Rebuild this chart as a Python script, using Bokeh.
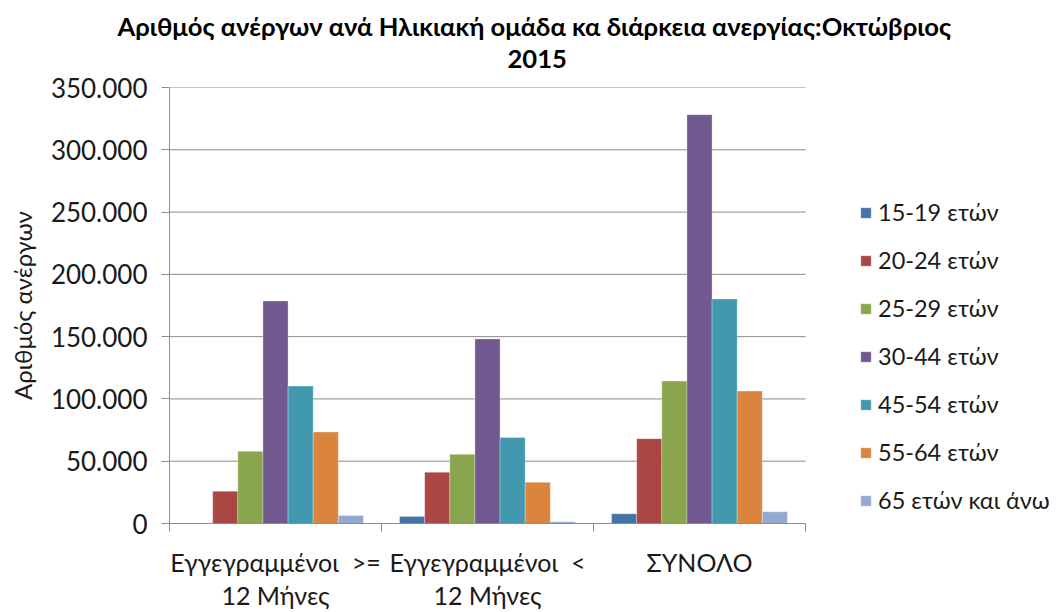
from bokeh.plotting import figure
from bokeh.models import (ColumnDataSource, FixedTicker, Legend, LegendItem, Title, Range1d)
from bokeh.transform import dodge
from bokeh.embed import file_html
from bokeh.resources import INLINE

# ---- data ----
categories = ["Εγγεγραμμένοι\u00a0 >=\n12 Μήνες", "Εγγεγραμμένοι\u00a0 <\n12 Μήνες", "ΣΥΝΟΛΟ"]
age_groups = ["15-19 ετών", "20-24 ετών", "25-29 ετών", "30-44 ετών",
              "45-54 ετών", "55-64 ετών", "65 ετών και άνω"]
v_15_19 = [0, 5600, 7800]
v_20_24 = [25900, 41100, 68100]
v_25_29 = [57900, 55500, 114300]
v_30_44 = [178600, 148200, 328200]
v_45_54 = [110300, 69100, 180200]
v_55_64 = [73400, 33100, 106300]
v_65_up = [6400, 1400, 9400]
series = [v_15_19, v_20_24, v_25_29, v_30_44, v_45_54, v_55_64, v_65_up]
colors = ["#4572A7", "#AA4643", "#89A54E", "#71588F", "#4198AF", "#DB843D", "#93A9CF"]
y_ticks = [0, 50000, 100000, 150000, 200000, 250000, 300000, 350000]
y_tick_labels = ["0", "50.000", "100.000", "150.000", "200.000", "250.000", "300.000", "350.000"]
title_line1 = "Αριθμός ανέργων ανά Ηλικιακή ομάδα κα διάρκεια ανεργίας:Οκτώβριος"
title_line2 = "2015"
y_title = "Αριθμός ανέργων"

FONT = "Lato"
GRID = "#8C8C8C"
TXT = "#1a1a1a"

n = len(categories)
# frame spans the plot area plus the legend area on the right
p = figure(width=1064, height=612, output_backend="svg", toolbar_location=None,
           x_range=Range1d(0, n + 1.2217), y_range=Range1d(0, 350000),
           min_border_left=169, min_border_right=0, min_border_top=87, min_border_bottom=86)
p.outline_line_color = None
p.background_fill_color = "white"
p.border_fill_color = "white"

# horizontal gridlines limited to the plot area
p.ygrid.grid_line_color = None
p.segment(x0=0, x1=n, y0=y_ticks, y1=y_ticks, line_color=GRID, line_width=1)

centers = [i + 0.5 for i in range(n)]
bw = 0.1185
items = []
for j, (name, vals, col) in enumerate(zip(age_groups, series, colors)):
    src = ColumnDataSource(dict(x=centers, top=vals))
    r = p.vbar(x=dodge("x", (j - 3) * bw, range=p.x_range), top="top", width=bw,
               source=src, fill_color=col, line_color="white", line_width=0.6, line_alpha=0.5)
    items.append(LegendItem(label=name, renderers=[r]))

# x axis
p.xaxis.bounds = (0, n)
p.xaxis.ticker = FixedTicker(ticks=centers, minor_ticks=[float(i) for i in range(n + 1)])
p.xaxis.major_label_overrides = {c: lab for c, lab in zip(centers, categories)}
p.xaxis.major_tick_out = 0
p.xaxis.major_tick_in = 0
p.xaxis.minor_tick_out = 8
p.xaxis.minor_tick_in = 0
p.xaxis.minor_tick_line_color = GRID
p.xaxis.axis_line_color = GRID
p.xaxis.major_label_text_font = FONT
p.xaxis.major_label_text_font_size = "25px"
p.xaxis.major_label_text_line_height = 1.1
p.xaxis.major_label_text_color = TXT
p.xaxis.major_label_standoff = 15
p.xgrid.grid_line_color = None

# y axis
p.yaxis.ticker = FixedTicker(ticks=y_ticks)
p.yaxis.major_label_overrides = {t: l for t, l in zip(y_ticks, y_tick_labels)}
p.yaxis.major_tick_out = 8
p.yaxis.major_tick_in = 0
p.yaxis.minor_tick_line_color = None
p.yaxis.major_tick_line_color = GRID
p.yaxis.axis_line_color = GRID
p.yaxis.major_label_text_font = FONT
p.yaxis.major_label_text_font_size = "26px"
p.yaxis.major_label_text_color = TXT
p.yaxis.major_label_standoff = 14
p.yaxis.axis_label = y_title
p.yaxis.axis_label_text_font = FONT
p.yaxis.axis_label_text_font_size = "24px"
p.yaxis.axis_label_text_font_style = "normal"
p.yaxis.axis_label_text_color = TXT
p.yaxis.axis_label_standoff = 11

# titles
t2 = Title(text=title_line2, align="left", offset=338, text_font=FONT, standoff=40,
           text_font_size="25.6px", text_font_style="bold", text_color="#000000")
t1 = Title(text=title_line1, align="left", offset=-52, text_font=FONT, standoff=-26,
           text_font_size="25.6px", text_font_style="bold", text_color="#000000")
p.add_layout(t2, "above")
p.add_layout(t1, "above")

legend = Legend(items=items, location=(690, -1))
legend.border_line_color = None
legend.background_fill_alpha = 0
legend.label_text_font = FONT
legend.label_text_font_size = "23.5px"
legend.label_text_color = TXT
legend.glyph_width = 13
legend.glyph_height = 13
legend.label_height = 48
legend.label_standoff = 6
legend.spacing = 0
legend.padding = 0
legend.margin = 0
p.add_layout(legend, "center")

open("out.html", "w").write(file_html(p, INLINE))
